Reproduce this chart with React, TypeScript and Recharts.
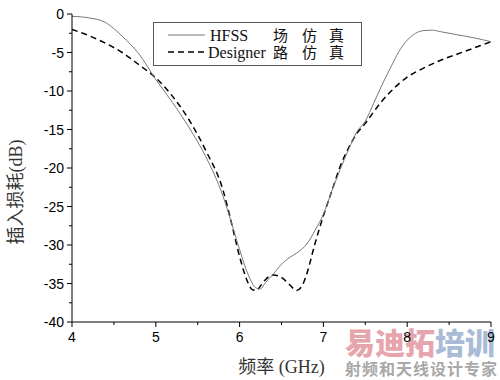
import { LineChart, Line, XAxis, YAxis } from 'recharts';

const hfssFreq = [4.0, 4.2, 4.4, 4.5, 4.6, 4.8, 5.0, 5.2, 5.4, 5.6, 5.8, 5.9, 6.0, 6.1, 6.2, 6.25, 6.3, 6.4, 6.5, 6.6, 6.7, 6.8, 6.9, 7.0, 7.1, 7.2, 7.3, 7.4, 7.5, 7.6, 7.7, 7.8, 7.9, 8.0, 8.1, 8.2, 8.3, 8.4, 8.6, 8.8, 9.0];
const hfssLoss = [-0.3, -0.5, -1.1, -1.9, -2.9, -5.2, -8.5, -11.5, -14.8, -18.6, -23.6, -27.0, -30.6, -33.8, -35.6, -35.7, -35.0, -33.8, -32.5, -31.6, -30.9, -29.9, -28.1, -26.0, -23.0, -20.2, -17.6, -15.3, -13.9, -11.6, -9.2, -7.0, -4.9, -3.4, -2.5, -2.15, -2.1, -2.3, -2.7, -3.1, -3.6];

const designerFreq = [4.0, 4.2, 4.4, 4.6, 4.8, 5.0, 5.2, 5.4, 5.6, 5.8, 5.9, 6.0, 6.1, 6.15, 6.2, 6.25, 6.3, 6.4, 6.5, 6.6, 6.68, 6.75, 6.8, 6.9, 7.0, 7.1, 7.2, 7.3, 7.4, 7.5, 7.6, 7.7, 7.8, 8.0, 8.2, 8.4, 8.6, 8.8, 9.0];
const designerLoss = [-2.0, -2.8, -3.8, -5.0, -6.6, -8.3, -10.7, -13.8, -17.8, -22.8, -27.0, -31.5, -34.9, -35.8, -35.9, -35.3, -34.6, -33.9, -34.2, -35.2, -35.9, -35.2, -33.8, -29.8, -26.2, -23.0, -19.8, -17.4, -15.5, -14.2, -12.7, -11.3, -10.1, -8.2, -7.0, -6.0, -5.2, -4.4, -3.6];

const xTicks = [4, 4.5, 5, 5.5, 6, 6.5, 7, 7.5, 8, 8.5, 9];
const yTicks = [-40, -37.5, -35, -32.5, -30, -27.5, -25, -22.5, -20, -17.5, -15, -12.5, -10, -7.5, -5, -2.5, 0];

const hfssData = hfssFreq.map((f, i) => ({ f, v: hfssLoss[i] }));
const designerData = designerFreq.map((f, i) => ({ f, v: designerLoss[i] }));

const TICK_SIZE = 5;
const TICK_MARGIN = 3;
const tickFont = '"Liberation Sans", Arial, sans-serif';
const serifFont = '"Liberation Serif", "Noto Sans CJK SC", serif';

function YTick(props: any) {
  const { x, y, payload } = props;
  const major = payload.value % 5 === 0;
  const ax = x + TICK_SIZE + TICK_MARGIN;
  return (
    <g>
      <line x1={ax} x2={ax - (major ? 5 : 3)} y1={y} y2={y} stroke="#000" />
      {major && (
        <text x={x} y={y} dy={5} textAnchor="end" fontSize={14} fontFamily={tickFont} fill="#000">
          {payload.value}
        </text>
      )}
    </g>
  );
}

function XTick(props: any) {
  const { x, y, payload } = props;
  const major = payload.value % 1 === 0;
  const ay = y - TICK_SIZE - TICK_MARGIN;
  return (
    <g>
      <line x1={x} x2={x} y1={ay} y2={ay + (major ? 5 : 3)} stroke="#000" />
      {major && (
        <text x={x} y={y} dy={12} textAnchor="middle" fontSize={14} fontFamily={tickFont} fill="#000">
          {payload.value}
        </text>
      )}
    </g>
  );
}

function YLabel(props: any) {
  const vb = props.viewBox;
  const cx = vb.x + 16;
  const cy = vb.y + vb.height / 2 + 24;
  return (
    <text x={cx} y={cy} transform={`rotate(-90, ${cx}, ${cy})`} textAnchor="middle" dominantBaseline="central" fontSize={18} fontFamily={serifFont} fill="#333">
      插入损耗(dB)
    </text>
  );
}

function LegendBox() {
  return (
    <svg width={209} height={44} style={{ display: 'block' }}>
      <rect x={0.5} y={0.5} width={208} height={43} fill="#fff" stroke="#555" />
      <line x1={15} x2={52} y1={13} y2={13} stroke="#777" strokeWidth={1} />
      <text x={57} y={19} fontSize={16} fontFamily={serifFont} fill="#111">HFSS</text>
      <text x={120} y={19} fontSize={15} fontFamily={serifFont} fill="#111">场</text>
      <text x={149} y={19} fontSize={15} fontFamily={serifFont} fill="#111">仿</text>
      <text x={176} y={19} fontSize={15} fontFamily={serifFont} fill="#111">真</text>
      <line x1={15} x2={52} y1={30} y2={30} stroke="#000" strokeWidth={1.5} strokeDasharray="6 4" />
      <text x={55} y={36} fontSize={16} fontFamily={serifFont} fill="#111">Designer</text>
      <text x={120} y={36} fontSize={15} fontFamily={serifFont} fill="#111">路</text>
      <text x={149} y={36} fontSize={15} fontFamily={serifFont} fill="#111">仿</text>
      <text x={176} y={36} fontSize={15} fontFamily={serifFont} fill="#111">真</text>
    </svg>
  );
}

export default function App() {
  return (
    <div style={{ position: 'absolute', left: 0, top: 0, width: 500, height: 380, background: '#fff' }}>
      <div style={{ position: 'absolute', left: 345, top: 326, fontFamily: '"Noto Sans CJK SC", sans-serif', fontWeight: 900, fontSize: 30, lineHeight: '31px', whiteSpace: 'nowrap' }}>
        <span style={{ color: '#e6a5ad' }}>易迪拓</span>
        <span style={{ color: '#a9bbd6' }}>培训</span>
      </div>
      <div style={{ position: 'absolute', left: 345, top: 359, fontFamily: '"Noto Sans CJK SC", sans-serif', fontWeight: 700, fontSize: 16, lineHeight: '19px', color: '#a8a8a8', whiteSpace: 'nowrap', letterSpacing: 1 }}>
        射频和天线设计专家
      </div>
      <div style={{ position: 'absolute', left: 0, top: 0 }}>
        <LineChart width={500} height={380} margin={{ top: 14, right: 9, bottom: 0, left: 0 }}>
          <XAxis
            xAxisId="b"
            dataKey="f"
            type="number"
            domain={[4, 9]}
            ticks={xTicks}
            interval={0}
            allowDuplicatedCategory={false}
            height={58}
            tickSize={TICK_SIZE}
            tickMargin={TICK_MARGIN}
            tickLine={false}
            tick={<XTick />}
            axisLine={{ stroke: '#000' }}
            label={{ value: '频率 (GHz)', position: 'insideBottom', offset: 7, fontSize: 18, fontFamily: serifFont, fill: '#333' }}
          />
          <XAxis xAxisId="t" orientation="top" type="number" domain={[4, 9]} height={0} tick={false} tickLine={false} axisLine={{ stroke: '#333' }} />
          <YAxis
            yAxisId="l"
            type="number"
            domain={[-40, 0]}
            ticks={yTicks}
            interval={0}
            width={72}
            tickSize={TICK_SIZE}
            tickMargin={TICK_MARGIN}
            tickLine={false}
            tick={<YTick />}
            axisLine={{ stroke: '#000' }}
            label={<YLabel />}
          />
          <YAxis yAxisId="r" orientation="right" type="number" domain={[-40, 0]} width={0} tick={false} tickLine={false} axisLine={{ stroke: '#333' }} />
          <Line
            xAxisId="b"
            yAxisId="l"
            data={designerData}
            dataKey="v"
            type="monotone"
            stroke="#000"
            strokeWidth={1.5}
            strokeDasharray="6 4"
            dot={false}
            isAnimationActive={false}
          />
          <Line
            xAxisId="b"
            yAxisId="l"
            data={hfssData}
            dataKey="v"
            type="monotone"
            stroke="#777"
            strokeWidth={1}
            dot={false}
            isAnimationActive={false}
          />
        </LineChart>
      </div>
      <div style={{ position: 'absolute', left: 153, top: 22 }}>
        <LegendBox />
      </div>
    </div>
  );
}
